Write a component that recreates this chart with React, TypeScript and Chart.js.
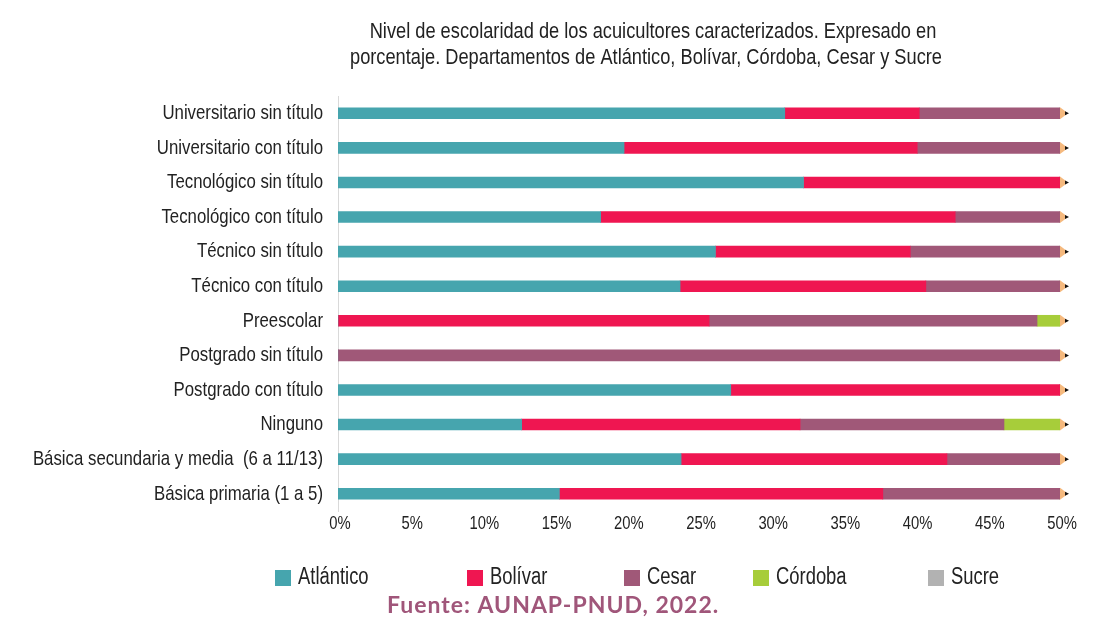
import React, { useEffect, useRef } from 'react';
import { Chart, registerables } from 'chart.js';

Chart.register(...registerables);

const categories = [
  'Universitario sin título',
  'Universitario con título',
  'Tecnológico sin título',
  'Tecnológico con título',
  'Técnico sin título',
  'Técnico con título',
  'Preescolar',
  'Postgrado sin título',
  'Postgrado con título',
  'Ninguno',
  'Básica secundaria y media  (6 a 11/13)',
  'Básica primaria (1 a 5)',
];

const atlantico = [30.94, 19.81, 32.24, 18.19, 26.14, 23.69, 0, 0, 27.2, 12.72, 23.76, 15.33];
const bolivar = [9.31, 20.3, 17.76, 24.55, 13.49, 17.02, 25.7, 0, 22.8, 19.28, 18.41, 22.4];
const cesar = [9.75, 9.89, 0, 7.26, 10.37, 9.29, 22.71, 50, 0, 14.12, 7.83, 12.27];
const cordoba = [0, 0, 0, 0, 0, 0, 1.59, 0, 0, 3.88, 0, 0];
const sucre = [0, 0, 0, 0, 0, 0, 0, 0, 0, 0, 0, 0];

const xTickValues = [0, 5, 10, 15, 20, 25, 30, 35, 40, 45, 50];

const seriesNames = ['Atlántico', 'Bolívar', 'Cesar', 'Córdoba', 'Sucre'];
const seriesColors = ['#46a5ae', '#ef1651', '#a05878', '#a7cd3a', '#b2b2b2'];

const titleLines = [
  'Nivel de escolaridad de los acuicultores caracterizados. Expresado en',
  'porcentaje. Departamentos de Atlántico, Bolívar, Córdoba, Cesar y Sucre',
];
const sourceText = 'Fuente: AUNAP-PNUD, 2022.';

const FONT = '"Liberation Sans", Arial, sans-serif';
const SX = 0.8;
const TEXT = '#222222';

function narrowText(ctx: CanvasRenderingContext2D, text: string, x: number, y: number, size: number, align: CanvasTextAlign) {
  ctx.save();
  ctx.font = `${size}px ${FONT}`;
  ctx.textAlign = align;
  ctx.textBaseline = 'middle';
  ctx.fillStyle = TEXT;
  ctx.translate(x, y);
  ctx.scale(SX, 1);
  ctx.fillText(text, 0, 0);
  ctx.restore();
}

const decorPlugin = {
  id: 'decor',
  afterDatasetsDraw(chart: any) {
    const ctx = chart.ctx;
    const meta = chart.getDatasetMeta(chart.data.datasets.length - 1);
    ctx.save();
    meta.data.forEach((el: any) => {
      const x = el.x;
      const y = el.y;
      const h = 12;
      ctx.fillStyle = '#f5b97e';
      ctx.beginPath();
      ctx.moveTo(x, y - h / 2);
      ctx.lineTo(x, y + h / 2);
      ctx.lineTo(x + 8, y);
      ctx.closePath();
      ctx.fill();
      ctx.fillStyle = '#111111';
      ctx.beginPath();
      ctx.moveTo(x + 5, y - 2);
      ctx.lineTo(x + 5, y + 2);
      ctx.lineTo(x + 9, y);
      ctx.closePath();
      ctx.fill();
    });
    ctx.restore();
  },
  afterDraw(chart: any) {
    const ctx = chart.ctx;
    const xs = chart.scales.x;
    const ys = chart.scales.y;
    // y category labels
    chart.data.labels.forEach((lab: string, i: number) => {
      narrowText(ctx, lab, ys.right - 15, ys.getPixelForValue(i), 21, 'right');
    });
    // x tick labels
    xTickValues.forEach((v) => {
      narrowText(ctx, `${v}%`, xs.getPixelForValue(v) + 2, xs.top + 13, 18.5, 'center');
    });
    // title
    narrowText(ctx, titleLines[0], 653, 32, 22.8, 'center');
    narrowText(ctx, titleLines[1], 646, 58, 22.8, 'center');
    // legend
    const legendX = [275, 467, 624, 753, 928];
    seriesNames.forEach((name, i) => {
      ctx.fillStyle = seriesColors[i];
      ctx.fillRect(legendX[i], 570, 16, 16);
      narrowText(ctx, name, legendX[i] + 23, 578, 23, 'left');
    });
    // source
    ctx.save();
    ctx.fillStyle = '#a0567a';
    ctx.font = 'bold 23px Lato, "Open Sans", sans-serif';
    (ctx as any).letterSpacing = '1px';
    ctx.textAlign = 'left';
    ctx.textBaseline = 'alphabetic';
    ctx.fillText(sourceText, 387, 613);
    ctx.restore();
  },
};

export default function App() {
  const ref = useRef<HTMLCanvasElement>(null);

  useEffect(() => {
    if (!ref.current) return;
    const data = [atlantico, bolivar, cesar, cordoba, sucre];
    const chart = new Chart(ref.current, {
      type: 'bar',
      data: {
        labels: categories,
        datasets: data.map((d, i) => ({
          label: seriesNames[i],
          data: d,
          backgroundColor: seriesColors[i],
          borderWidth: 0,
          barThickness: 11,
        })),
      },
      options: {
        indexAxis: 'y',
        responsive: false,
        animation: false,
        layout: { padding: { left: 0, right: 41, top: 96, bottom: 84 } },
        plugins: {
          legend: { display: false },
          title: { display: false },
          tooltip: { enabled: false },
        },
        scales: {
          x: {
            stacked: true,
            min: 0,
            max: 50,
            grid: { display: false },
            border: { display: false },
            afterFit: (s: any) => { s.height = 30; },
            ticks: { display: false, stepSize: 5 },
          },
          y: {
            stacked: true,
            grid: { display: false, drawTicks: false },
            border: { display: true, color: '#d9d9d9', width: 1 },
            afterFit: (s: any) => { s.width = 338; },
            ticks: { display: false },
          },
        },
      },
      plugins: [decorPlugin],
    });
    return () => chart.destroy();
  }, []);

  return (
    <div style={{ position: 'absolute', left: 0, top: 0, width: 1101, height: 625, background: '#ffffff' }}>
      <canvas ref={ref} width={1101} height={625} />
    </div>
  );
}
